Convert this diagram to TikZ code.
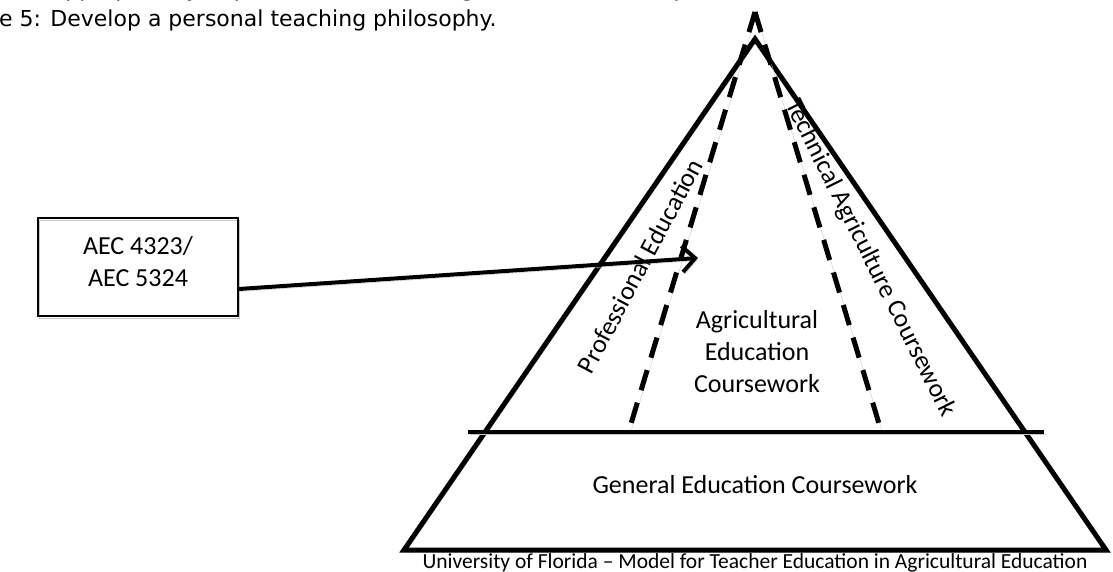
\documentclass[tikz,border=0pt]{standalone}
\usepackage{fontspec}
\setmainfont{Carlito}
\newfontfamily\hdrfont{DejaVu Sans}
\usetikzlibrary{arrows.meta}
\tikzset{
  shad/.style={preaction={draw=black!22, transform canvas={shift={(1.5pt,-2.5pt)}}}},
  solidline/.style={line width=5pt, shad},
  dashline/.style={line width=5pt, dash pattern=on 21pt off 13pt, shad},
  lbl/.style={font=\fontsize{26}{32}\selectfont, inner sep=0pt, align=center},
  hdr/.style={font=\hdrfont\fontsize{22}{26}\selectfont, inner sep=0pt, anchor=base west},
  boxstyle/.style={draw, line width=1.6pt, minimum width=200pt, minimum height=98pt, inner sep=0pt, shad},
}
\begin{document}
\begin{tikzpicture}[x=1pt,y=-1pt]
\useasboundingbox (0,0) rectangle (1113,572);
% header (partly cut off at the top)
\node[hdr] (h1) at (-1,-3) {e 4: Appropriately depicts the role of being an educator as a professional.};
\node[hdr] (h2) at (-1,27) {e 5: Develop a personal teaching philosophy.};
% pyramid
\coordinate (apex) at (755,39);
\coordinate (bl) at (404,550);
\coordinate (br) at (1106,550);
\coordinate (top) at (755,12);
\coordinate (dl) at (630,427);
\coordinate (dr) at (880,427);
\coordinate (hl) at (468,432);
\coordinate (hr) at (1044,432);
\draw[solidline, line join=miter] (apex) -- (bl) -- (br) -- cycle;
\draw[solidline, line width=4.5pt] (hl) -- (hr);
\draw[dashline] (top) -- (dl);
\draw[dashline] (top) -- (dr);
% labels
\node[lbl, rotate=62] (prof) at (640,266) {Professional Education};
\node[lbl, rotate=-63.4] (tech) at (870,258) {Technical Agriculture Coursework};
\node[lbl] (agri) at (757,352) {Agricultural\\Education\\Coursework};
\node[lbl] (gen) at (755,485) {General Education Coursework};
\node[font=\fontsize{21.5}{24}\selectfont, inner sep=0pt] (uf) at (755,563) {University of Florida -- Model for Teacher Education in Agricultural Education};
% box and arrow
\node[boxstyle] (box) at (138,267) {};
\node[lbl] (boxtext) at (138,262) {AEC 4323/\\AEC 5324};
\coordinate (tip) at (698,258);
\draw[line width=4pt, shad, -{Straight Barb[length=13pt,width=26pt,line width=4pt]}] ([yshift=-22pt]box.east) -- (tip);
\end{tikzpicture}
\end{document}
